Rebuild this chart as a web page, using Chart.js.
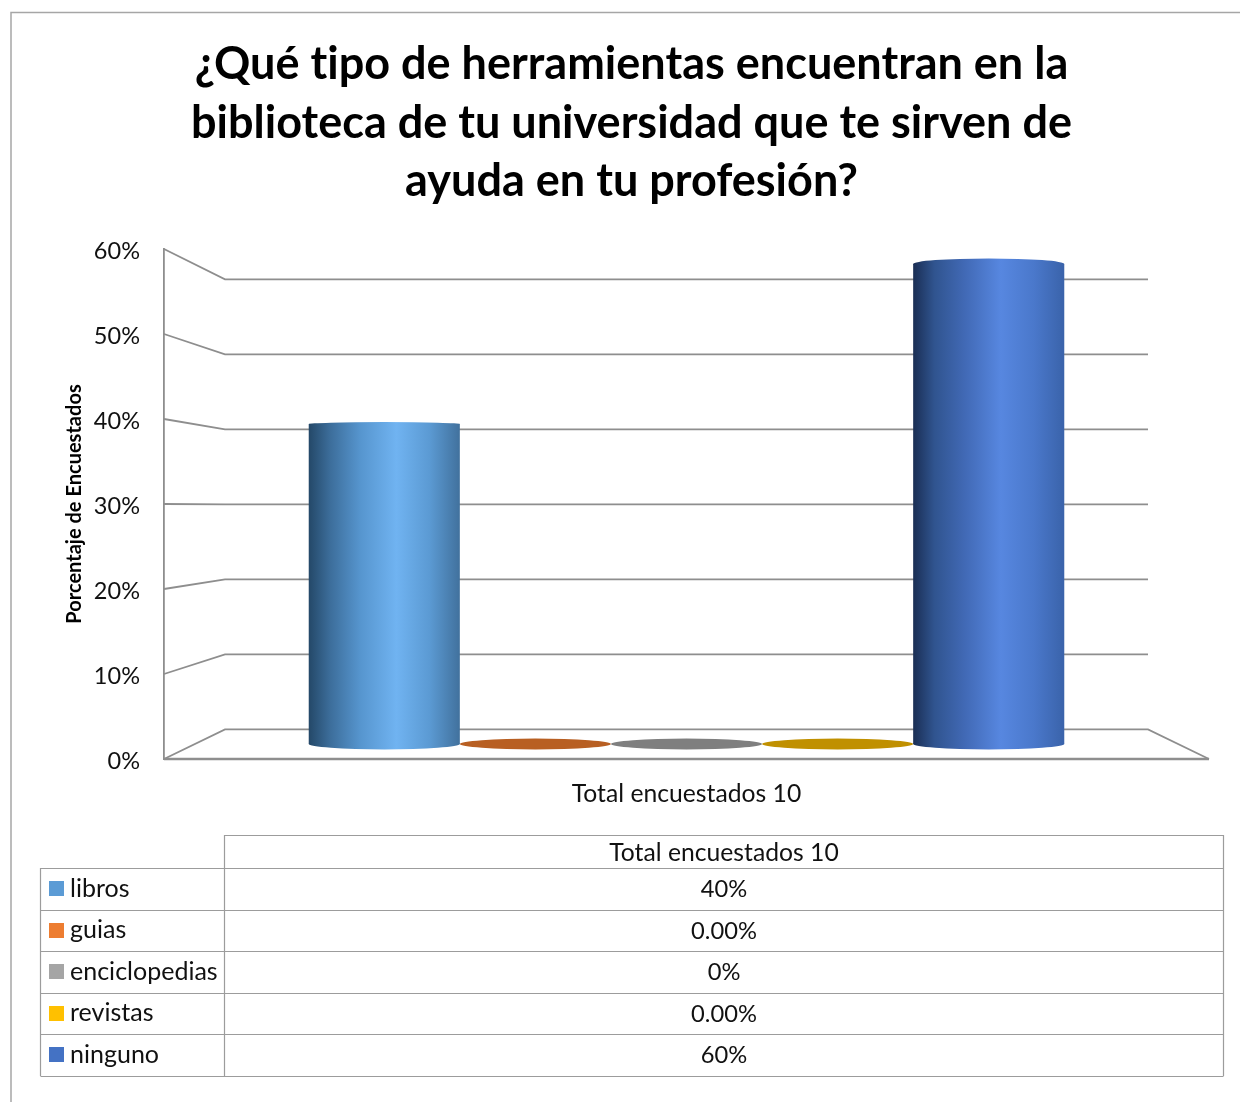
<!DOCTYPE html>
<html lang="es">
<head>
<meta charset="utf-8">
<title>Herramientas en la biblioteca</title>
<script src="https://cdn.jsdelivr.net/npm/chart.js@4"></script>
<style>
  html, body { margin: 0; padding: 0; background: #fff; }
  canvas { display: block; }
</style>
</head>
<body>
<canvas id="chart" width="1240" height="1102"></canvas>
<script>
const titleLines = [
  '¿Qué tipo de herramientas encuentran en la',
  'biblioteca de tu universidad que te sirven de',
  'ayuda en tu profesión?'
];
const categories = ['Total encuestados 10'];
const seriesNames = ['libros', 'guias', 'enciclopedias', 'revistas', 'ninguno'];
const seriesValues = [40, 0, 0, 0, 60];
const tableValues = ['40%', '0.00%', '0%', '0.00%', '60%'];

const legendColors = ['#5b9bd5', '#ed7d31', '#a5a5a5', '#ffc000', '#4472c4'];
const flatColors = ['#4a7faf', '#b85f22', '#7f7f7f', '#c09000', '#375e9f'];
const cylinderStops = [
  ['#244868', '#3c6d9a', '#5695ce', '#70b3f1', '#5b9ad3', '#41719d'],
  ['#5c3010', '#8a4a1c', '#b85f22', '#e07a30', '#b85f22', '#8a4a1c'],
  ['#404040', '#606060', '#7f7f7f', '#a0a0a0', '#7f7f7f', '#606060'],
  ['#604800', '#907000', '#c09000', '#f0b800', '#c09000', '#907000'],
  ['#1a2e54', '#30548f', '#4169b5', '#5787e0', '#4a78cb', '#3a63aa']
];
const stopOffsets = [0, 0.14, 0.34, 0.58, 0.8, 1];

const barShare = 0.723;
const lineColor = '#8e8e8e';
const textColor = '#111';
const fontFamily = 'Lato, "Open Sans", sans-serif';

Chart.defaults.font.family = fontFamily;
Chart.defaults.color = textColor;

function barGradient(chart, i) {
  const xScale = chart.scales.x;
  if (!xScale) return flatColors[i];
  const w = xScale.width * barShare / seriesNames.length;
  const left = xScale.getPixelForValue(0) + (i - seriesNames.length / 2) * w;
  if (!Number.isFinite(left) || !Number.isFinite(w)) return flatColors[i];
  const g = chart.ctx.createLinearGradient(left, 0, left + w, 0);
  cylinderStops[i].forEach((c, k) => g.addColorStop(stopOffsets[k], c));
  return g;
}

// the 3D box and the cylinder caps, all taken from the three y scales
const wallPlugin = {
  id: 'wall',
  beforeDraw(chart) {
    const { ctx } = chart;
    // stops the "ti" ligature of Lato
    ctx.letterSpacing = '0.01px';
    ctx.save();
    ctx.strokeStyle = '#a6a6a6';
    ctx.lineWidth = 1.5;
    ctx.beginPath();
    ctx.moveTo(11, 1102);
    ctx.lineTo(11, 12.5);
    ctx.lineTo(1240, 12.5);
    ctx.stroke();
    ctx.restore();
  },
  beforeDatasetsDraw(chart) {
    const { ctx, chartArea: a, scales } = chart;
    const backLeft = a.left + 61;
    const backRight = a.right - 61;
    ctx.save();
    ctx.strokeStyle = lineColor;
    ctx.lineWidth = 1.8;
    scales.y.ticks.forEach(t => {
      const front = scales.y.getPixelForValue(t.value);
      const back = scales.yBack.getPixelForValue(t.value);
      ctx.beginPath();
      ctx.moveTo(a.left, front);
      ctx.lineTo(backLeft, back);
      ctx.lineTo(backRight, back);
      if (t.value === 0) ctx.lineTo(a.right, front);
      ctx.stroke();
    });
    ctx.lineWidth = 2.4;
    ctx.beginPath();
    ctx.moveTo(a.left, scales.y.getPixelForValue(0));
    ctx.lineTo(a.right, scales.y.getPixelForValue(0));
    ctx.stroke();
    ctx.restore();
  },
  afterDatasetsDraw(chart) {
    const { ctx, scales } = chart;
    const capHeight = v => Math.abs(scales.y.getPixelForValue(v) - scales.yBack.getPixelForValue(v)) / 5.5;
    seriesValues.forEach((v, i) => {
      const el = chart.getDatasetMeta(i).data[0];
      const bottom = scales.yBar.getPixelForValue(0);
      ctx.save();
      if (v === 0) {
        ctx.fillStyle = flatColors[i];
        ctx.beginPath();
        ctx.ellipse(el.x, bottom, el.width / 2, capHeight(0), 0, 0, Math.PI * 2);
        ctx.fill();
      } else {
        ctx.fillStyle = barGradient(chart, i);
        ctx.beginPath();
        ctx.ellipse(el.x, bottom, el.width / 2, capHeight(0), 0, 0, Math.PI * 2);
        ctx.fill();
        ctx.beginPath();
        ctx.ellipse(el.x, el.y, el.width / 2, capHeight(v), 0, 0, Math.PI * 2);
        ctx.fill();
      }
      ctx.restore();
    });
  }
};

// data table under the plot
const rowLines = [868, 910, 951, 993, 1034, 1076];
const tablePlugin = {
  id: 'dataTable',
  afterDraw(chart) {
    const { ctx } = chart;
    const left = 40.5, split = 224.5, right = 1223.5, top = 835.5;
    const mid = (split + right) / 2;
    ctx.save();
    ctx.strokeStyle = '#9c9c9c';
    ctx.lineWidth = 1.2;
    ctx.beginPath();
    ctx.moveTo(split, rowLines[0]);
    ctx.lineTo(split, top);
    ctx.lineTo(right, top);
    ctx.lineTo(right, rowLines[5]);
    rowLines.forEach(y => {
      ctx.moveTo(left, y + 0.5);
      ctx.lineTo(right, y + 0.5);
    });
    ctx.moveTo(left, rowLines[0]);
    ctx.lineTo(left, rowLines[5]);
    ctx.moveTo(split, rowLines[0]);
    ctx.lineTo(split, rowLines[5]);
    ctx.stroke();

    ctx.fillStyle = textColor;
    ctx.textBaseline = 'middle';
    ctx.textAlign = 'center';
    ctx.font = '24.7px ' + fontFamily;
    ctx.fillText(categories[0], mid, 853);
    seriesNames.forEach((name, i) => {
      const y = (rowLines[i] + rowLines[i + 1]) / 2;
      ctx.fillStyle = legendColors[i];
      ctx.fillRect(49, Math.round(y) - 8, 15, 15);
      ctx.fillStyle = textColor;
      ctx.textAlign = 'left';
      ctx.font = '25px ' + fontFamily;
      ctx.fillText(name, 70, y - 0.5);
      ctx.textAlign = 'center';
      ctx.font = '23.7px ' + fontFamily;
      ctx.fillText(tableValues[i], mid, y + 0.5);
    });
    ctx.restore();
  }
};

new Chart(document.getElementById('chart'), {
  type: 'bar',
  data: {
    labels: categories,
    datasets: seriesNames.map((name, i) => ({
      label: name,
      data: [seriesValues[i]],
      yAxisID: 'yBar',
      borderWidth: 0,
      barPercentage: 1,
      categoryPercentage: barShare,
      backgroundColor: ctx => barGradient(ctx.chart, i)
    }))
  },
  options: {
    responsive: false,
    animation: false,
    layout: { padding: { left: 54, right: 31, top: 0, bottom: 273 } },
    plugins: {
      legend: { display: false },
      tooltip: { enabled: false },
      title: {
        display: true,
        text: titleLines,
        color: '#000',
        font: { size: 45, weight: 'bold', lineHeight: 1.3 },
        padding: { top: 35.5, bottom: 38 }
      }
    },
    scales: {
      x: {
        grid: { display: false },
        border: { display: false },
        ticks: { padding: 12, maxRotation: 0, font: { size: 24.7 }, color: textColor },
        afterFit: s => { s.height = 70; }
      },
      // front edge of the wall, this is the axis that is labelled
      y: {
        min: 0,
        max: 60,
        position: 'left',
        grid: { display: false },
        border: { display: true, color: lineColor, width: 1.8 },
        ticks: { stepSize: 10, padding: 16, labelOffset: 2, font: { size: 23.5 }, color: textColor, callback: v => v + '%' },
        title: {
          display: true,
          text: 'Porcentaje de Encuestados',
          color: '#000',
          font: { size: 20, weight: 'bold' },
          padding: { top: 9, bottom: 0 }
        },
        afterFit: s => { s.width = 110; }
      },
      // plane through the cylinders: 8px per point, zero at y=744
      yBar: { display: false, min: -1.875, max: 61.875 },
      // back wall: 7.5px per point, zero at y=729.5
      yBack: { display: false, min: -3.95, max: 64.05 }
    }
  },
  plugins: [wallPlugin, tablePlugin]
});
</script>
</body>
</html>
